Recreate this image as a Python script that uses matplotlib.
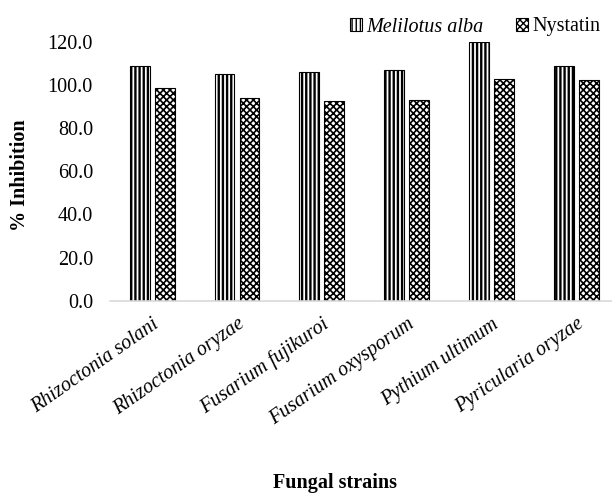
import numpy as np
import matplotlib
matplotlib.use('Agg')
import matplotlib.pyplot as plt

plt.rcParams['font.family'] = 'Liberation Serif'

strains = ['Rhizoctonia solani', 'Rhizoctonia oryzae', 'Fusarium fujikuroi',
           'Fusarium oxysporum', 'Pythium ultimum', 'Pyricularia oryzae']
melilotus = [108.6, 105.2, 105.8, 107.0, 119.7, 108.9]
nystatin = [98.4, 94.2, 92.8, 93.1, 102.7, 102.3]
yticks = [0, 20, 40, 60, 80, 100, 120]

fig = plt.figure(figsize=(6.12, 4.98), dpi=100)
ax = fig.add_axes([0.179, 0.396, 0.833, 0.520])

x = np.arange(len(strains))
w = 0.235
b1 = ax.bar(x - 0.147, melilotus, w, color='white', edgecolor='black', hatch='||||',
            linewidth=0.8, label='Melilotus alba')
b2 = ax.bar(x + 0.147, nystatin, w, color='white', edgecolor='black', hatch='xxxxx',
            linewidth=0.8, label='Nystatin')
for p in b1:
    if hasattr(p, 'set_hatch_linewidth'):
        p.set_hatch_linewidth(1.7)
for p in b2:
    if hasattr(p, 'set_hatch_linewidth'):
        p.set_hatch_linewidth(1.2)

ax.set_xlim(-0.5, 5.5)
ax.set_ylim(0, 120)
ax.set_yticks(yticks)
ax.set_yticklabels([f'{v:.1f}' for v in yticks], fontsize=14.5)
ax.set_xticks(x)
ax.set_xticklabels(strains, rotation=35, ha='right', rotation_mode='anchor',
                   fontsize=14.5, style='italic')
ax.tick_params(axis='both', length=0)
ax.tick_params(axis='y', pad=12)
ax.tick_params(axis='x', pad=10)
for s in ['top', 'right', 'left']:
    ax.spines[s].set_visible(False)
ax.spines['bottom'].set_color('#d9d9d9')
ax.spines['bottom'].set_linewidth(1.2)

fig.text(20 / 612, 1 - 175 / 498, '% Inhibition', rotation=90, ha='center', va='center',
         fontsize=14.5, fontweight='bold')
fig.text(335 / 612, 1 - 483 / 498, 'Fungal strains', ha='center', va='center',
         fontsize=14.5, fontweight='bold')

leg = fig.legend(loc='center right', bbox_to_anchor=(1.01, 1 - 27 / 498), ncol=2,
                 frameon=False, fontsize=14.5, handlelength=0.6, handleheight=0.6,
                 handletextpad=0.2, columnspacing=1.6)
leg.get_texts()[0].set_style('italic')

fig.savefig('out.png', dpi=100)
